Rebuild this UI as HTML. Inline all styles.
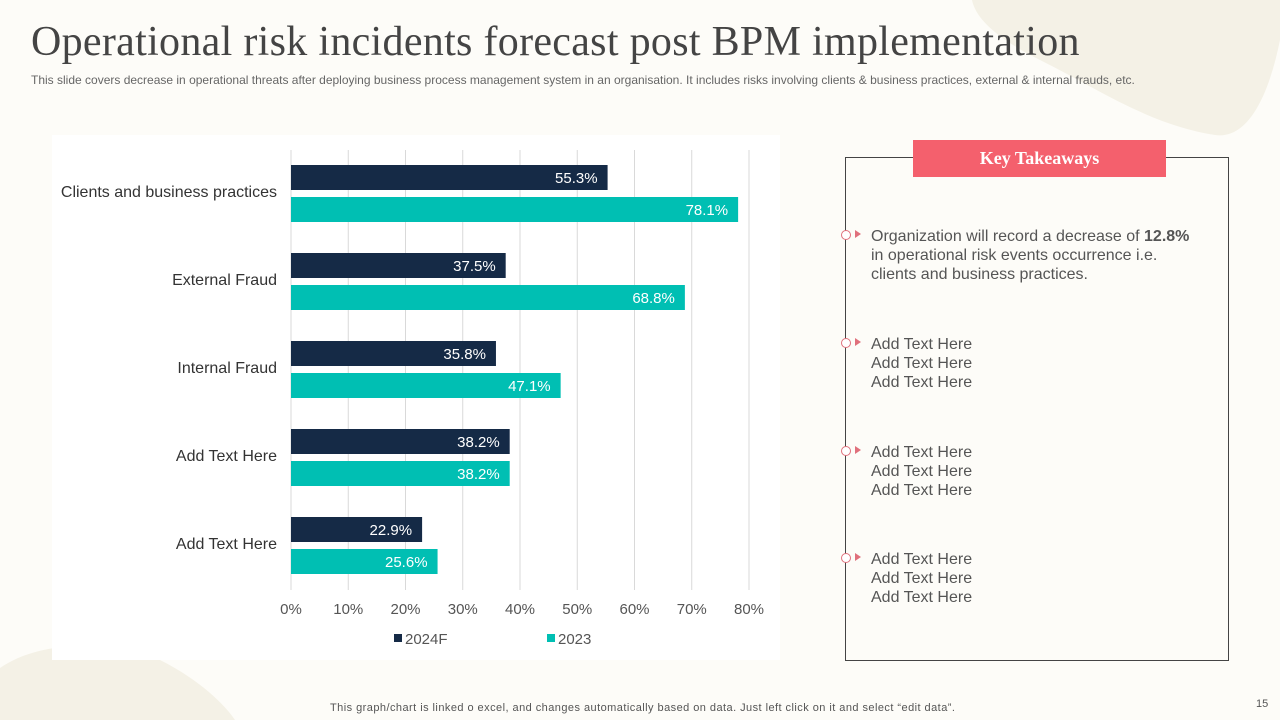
<!DOCTYPE html>
<html><head><meta charset="utf-8"><style>
body{margin:0;width:1280px;height:720px;overflow:hidden;background:#fdfcf8;font-family:"Liberation Sans",sans-serif;position:relative}
.abs{position:absolute}
</style></head><body>
<svg class="abs" style="left:0;top:0" width="1280" height="720">
<path d="M972,0 L1280,0 L1280,40 C1270,90 1250,140 1215,135 C1150,125 1100,90 1040,60 C990,35 975,15 972,0Z" fill="#f4f1e6"/>
<path d="M0,668 C40,640 110,640 160,660 C200,680 225,705 235,720 L0,720Z" fill="#f4f1e6"/>
</svg>
<div class="abs" style="left:31px;top:18px;font-family:'Liberation Serif',serif;font-size:42px;color:#444;letter-spacing:0.3px">Operational risk incidents forecast post BPM implementation</div>
<div class="abs" style="left:31px;top:73px;font-size:12px;color:#666;letter-spacing:0px">This slide covers decrease in operational threats after deploying business process management system in an organisation. It includes risks involving clients &amp; business practices, external &amp; internal frauds, etc.</div>
<div class="abs" style="left:52px;top:135px;width:728px;height:525px;background:#fff"></div>
<svg id="chart" class="abs" style="left:0;top:0" width="1280" height="720"></svg>
<div class="abs" style="left:845px;top:157px;width:382px;height:502px;border:1px solid #444"></div>
<div class="abs" style="left:913px;top:140px;width:253px;height:37px;background:#f4606d;color:#fff;font-family:'Liberation Serif',serif;font-weight:bold;font-size:18px;line-height:37px;text-align:center">Key Takeaways</div>
<div id="tk"></div>
<div class="abs" style="left:330px;top:702px;font-size:11px;color:#555;letter-spacing:0.45px">This graph/chart is linked o excel, and changes automatically based on data. Just left click on it and select “edit data”.</div>
<div class="abs" style="left:1256px;top:698px;font-size:11px;color:#555">15</div>
<script>
const categories=["Clients and business practices","External Fraud ","Internal Fraud","Add Text Here","Add Text Here"];
const series2024=[55.3,37.5,35.8,38.2,22.9];
const series2023=[78.1,68.8,47.1,38.2,25.6];
const ticks=[0,10,20,30,40,50,60,70,80];
const NS="http://www.w3.org/2000/svg";
const svg=document.getElementById('chart');
const x=v=>291+v*(749-291)/80;
const yG=i=>165+i*88;
function mk(t,a){const e=document.createElementNS(NS,t);for(const k in a)e.setAttribute(k,a[k]);svg.appendChild(e);return e;}
ticks.forEach(t=>{
 const l=mk('line',{x1:x(t),x2:x(t),y1:150,y2:590,stroke:'#d9d9d9','stroke-width':1});
 
 
 const tx=mk('text',{x:x(t),y:614,'text-anchor':'middle','font-size':15,fill:'#555'});tx.textContent=t+'%';
 
 
});
categories.forEach((c,i)=>{
 const y=yG(i);
 const lb=mk('text',{x:277,y:y+32,'text-anchor':'end','font-size':16,fill:'#333','xml:space':'preserve'});lb.textContent=c;
 
 
 [[series2024[i],'#152a46',y],[series2023[i],'#00bfb3',y+32]].forEach(([v,col,yy])=>{
  const r=mk('rect',{x:x(0),y:yy,width:x(v)-x(0),height:25,fill:col});
  
  
  const t=mk('text',{x:x(v)-10,y:yy+18,'text-anchor':'end','font-size':15,fill:'#fff'});t.textContent=v.toFixed(1)+'%';
  
  
 });
});
[['2024F','#152a46',394],['2023','#00bfb3',547]].forEach(([n,c,lx])=>{
 const r=mk('rect',{x:lx,y:634,width:8,height:8,fill:c});
 
 
 const t=mk('text',{x:lx+11,y:644,'font-size':15,fill:'#555'});t.textContent=n;
 
 
});
const items=[['Organization will record a decrease of <b>12.8%</b><br>in operational risk events  occurrence i.e.<br>clients and business practices.',227],['Add Text Here<br>Add Text Here<br>Add Text Here',335],['Add Text Here<br>Add Text Here<br>Add Text Here',443],['Add Text Here<br>Add Text Here<br>Add Text Here',550]];
const tk=document.getElementById('tk');
items.forEach(([h,t])=>{
 const b=document.createElement('div');b.className='abs';
 
 
 b.style.cssText=`left:841px;top:${t+3}px;width:8px;height:8px;border:1px solid #e0707c;border-radius:50%;background:#fff`;
 tk.appendChild(b);
 const a=document.createElement('div');a.className='abs';
 
 
 a.style.cssText=`left:855px;top:${t+3}px;width:0;height:0;border-left:6px solid #e0707c;border-top:4px solid transparent;border-bottom:4px solid transparent`;
 tk.appendChild(a);
 const d=document.createElement('div');d.className='abs';
 
 
 d.style.cssText=`left:871px;top:${t}px;font-size:16px;line-height:19px;color:#555`;
 d.innerHTML=h;tk.appendChild(d);
});
</script>
</body></html>
